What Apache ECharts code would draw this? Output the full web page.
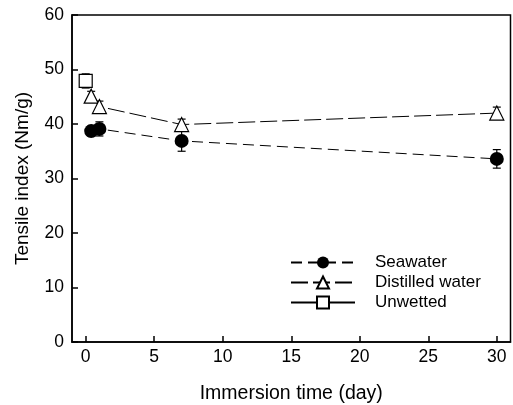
<!DOCTYPE html>
<html>
<head>
<meta charset="utf-8">
<script src="https://cdn.jsdelivr.net/npm/echarts@6/dist/echarts.min.js"></script>
<style>
html, body { margin: 0; padding: 0; background: #fff; }
#main { width: 513px; height: 405px; }
</style>
</head>
<body>
<div id="main"></div>
<script>
var days = [0.4, 1, 7, 30];
var seawater = [38.7, 39.1, 36.9, 33.6];
var seawaterErr = [0.9, 1.3, 1.9, 1.7];
var distilled = [45.1, 43.2, 39.9, 42.0];
var distilledErr = [0.9, 1.0, 1.0, 1.1];
var unwettedDay = [0];
var unwetted = [47.9];
var unwettedErr = [1.3];
var xTicks = [0, 5, 10, 15, 20, 25, 30];

var dom = document.getElementById('main');
var chart = echarts.init(dom);
var font = 'Liberation Sans, Arial, sans-serif';

function pairs(xs, ys) {
    return xs.map(function (x, i) { return [x, ys[i]]; });
}
function errData(xs, ys, es) {
    return xs.map(function (x, i) { return [x, ys[i] - es[i], ys[i] + es[i]]; });
}
function errorBars(data) {
    return {
        type: 'custom',
        data: data,
        z: 1,
        silent: true,
        renderItem: function (params, api) {
            var lo = api.coord([api.value(0), api.value(1)]);
            var hi = api.coord([api.value(0), api.value(2)]);
            var w = 4;
            var st = { stroke: '#000', lineWidth: 1.2 };
            return {
                type: 'group',
                children: [
                    { type: 'line', shape: { x1: lo[0], y1: lo[1], x2: hi[0], y2: hi[1] }, style: st },
                    { type: 'line', shape: { x1: lo[0] - w, y1: lo[1], x2: lo[0] + w, y2: lo[1] }, style: st },
                    { type: 'line', shape: { x1: hi[0] - w, y1: hi[1], x2: hi[0] + w, y2: hi[1] }, style: st }
                ]
            };
        }
    };
}

var option = {
    animation: false,
    textStyle: { fontFamily: font },
    grid: {
        left: 72, right: 2.5, top: 15, bottom: 63,
        outerBoundsMode: 'none',
        containLabel: false,
        show: true, borderColor: '#000', borderWidth: 1.5
    },
    legend: {
        orient: 'vertical',
        left: 285, top: 249,
        itemWidth: 64, itemHeight: 15, itemGap: 3,
        data: ['Seawater', 'Distilled water', 'Unwetted'],
        textStyle: { fontSize: 17, color: '#000', fontFamily: font, padding: [0, 0, 0, 15] }
    },
    xAxis: {
        type: 'value',
        min: -1, max: 31,
        name: 'Immersion time (day)',
        nameLocation: 'middle',
        nameGap: 42,
        nameTextStyle: { fontSize: 19.5, color: '#000', fontFamily: font },
        axisLine: { onZero: false, lineStyle: { color: '#000', width: 1.5 } },
        axisTick: { inside: true, length: 6, customValues: xTicks, lineStyle: { color: '#000', width: 1.5 } },
        axisLabel: { customValues: xTicks, fontSize: 17.5, color: '#000', margin: 6, fontFamily: font },
        splitLine: { show: false }
    },
    yAxis: {
        type: 'value',
        min: 0, max: 60, interval: 10,
        name: 'Tensile index (Nm/g)',
        nameLocation: 'middle',
        nameGap: 40,
        nameTextStyle: { fontSize: 19, color: '#000', fontFamily: font },
        axisLine: { show: true, onZero: false, lineStyle: { color: '#000', width: 1.5 } },
        axisTick: { show: true, inside: true, length: 6, lineStyle: { color: '#000', width: 1.5 } },
        axisLabel: { fontSize: 17.5, color: '#000', margin: 8, fontFamily: font },
        splitLine: { show: false }
    },
    series: [
        errorBars(errData(days, seawater, seawaterErr)),
        errorBars(errData(days, distilled, distilledErr)),
        errorBars(errData(unwettedDay, unwetted, unwettedErr)),
        {
            name: 'Seawater',
            type: 'line',
            data: pairs(days, seawater),
            symbol: 'circle',
            symbolSize: 14,
            z: 3,
            itemStyle: { color: '#000' },
            lineStyle: { color: '#000', width: 1, type: [11, 6] }
        },
        {
            name: 'Distilled water',
            type: 'line',
            data: pairs(days, distilled),
            symbol: 'triangle',
            symbolSize: 14,
            z: 3,
            itemStyle: { color: '#fff', borderColor: '#000', borderWidth: 1.2 },
            lineStyle: { color: '#000', width: 1, type: [17, 5] }
        },
        {
            name: 'Unwetted',
            type: 'line',
            data: pairs(unwettedDay, unwetted),
            symbol: 'rect',
            symbolSize: 13,
            z: 3,
            itemStyle: { color: '#fff', borderColor: '#000', borderWidth: 1.2 },
            lineStyle: { color: '#000', width: 1, type: 'solid' }
        }
    ]
};
chart.setOption(option);
</script>
</body>
</html>
